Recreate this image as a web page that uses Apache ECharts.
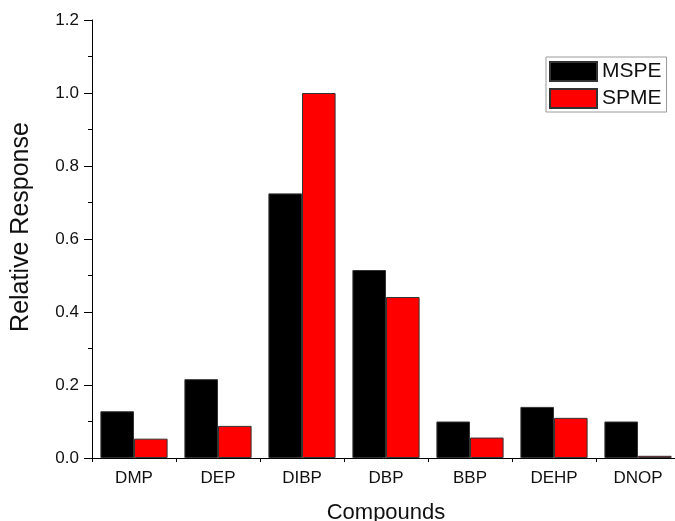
<!DOCTYPE html>
<html>
<head>
<meta charset="utf-8">
<script src="https://cdn.jsdelivr.net/npm/echarts@6/dist/echarts.min.js"></script>
<style>
html,body{margin:0;padding:0;background:#fff;}
#c{width:675px;height:521px;}
</style>
</head>
<body>
<div id="c"></div>
<script>
var categories = ['DMP','DEP','DIBP','DBP','BBP','DEHP','DNOP'];
var mspe = [0.128, 0.216, 0.725, 0.515, 0.100, 0.140, 0.100];
var spme = [0.053, 0.088, 1.000, 0.441, 0.056, 0.110, 0.006];
var yTicks = [0, 0.2, 0.4, 0.6, 0.8, 1.0, 1.2];

var FONT = 'Arial, "Liberation Sans", sans-serif';
var chart = echarts.init(document.getElementById('c'), null, {renderer:'canvas'});
chart.setOption({
  animation:false,
  backgroundColor:'#ffffff',
  textStyle:{fontFamily:FONT},
  grid:{left:92, right:-5, top:20, bottom:63, containLabel:false, outerBoundsMode:'none'},
  legend:{
    orient:'vertical', left:546, top:57,
    padding:[4,5,3,3], itemGap:6, itemWidth:47, itemHeight:19,
    borderColor:'#9a9a9a', borderWidth:1,
    textStyle:{fontSize:21, lineHeight:19, color:'#111', fontFamily:FONT, padding:[0,0,0,0]},
    data:[{name:'MSPE', icon:'rect'},{name:'SPME', icon:'rect'}]
  },
  xAxis:[{
    type:'category', data:categories,
    name:'Compounds', nameLocation:'middle', nameGap:44,
    nameTextStyle:{fontSize:22, color:'#111', fontFamily:FONT},
    axisLine:{lineStyle:{color:'#000', width:1}},
    axisTick:{alignWithLabel:true, length:8, lineStyle:{color:'#000'}},
    axisLabel:{fontSize:17, color:'#111', margin:12, fontFamily:FONT}
  },{
    type:'category', data:categories, position:'bottom',
    axisLine:{show:false},
    axisTick:{show:true, length:4, lineStyle:{color:'#000'}},
    axisLabel:{show:false}
  }],
  yAxis:{
    type:'value', min:yTicks[0], max:yTicks[yTicks.length-1], interval:0.2,
    name:'Relative Response', nameLocation:'middle', nameGap:58,
    nameTextStyle:{fontSize:25, color:'#111', fontFamily:FONT, padding:[0,0,0,24]},
    axisLine:{show:true, lineStyle:{color:'#000', width:1}},
    axisTick:{show:true, length:8, lineStyle:{color:'#000'}},
    minorTick:{show:true, splitNumber:2, length:4, lineStyle:{color:'#000'}},
    splitLine:{show:false},
    axisLabel:{fontSize:17, color:'#111', margin:13, fontFamily:FONT,
      formatter:function(v){return v.toFixed(1);}}
  },
  series:[{
    name:'MSPE', type:'bar', data:mspe, xAxisIndex:0,
    barGap:'0%', barCategoryGap:'20%',
    itemStyle:{color:'#000000', borderColor:'#333', borderWidth:1}
  },{
    name:'SPME', type:'bar', data:spme, xAxisIndex:0,
    barGap:'0%', barCategoryGap:'20%',
    itemStyle:{color:'#ff0000', borderColor:'#333', borderWidth:1}
  }]
});
</script>
</body>
</html>
